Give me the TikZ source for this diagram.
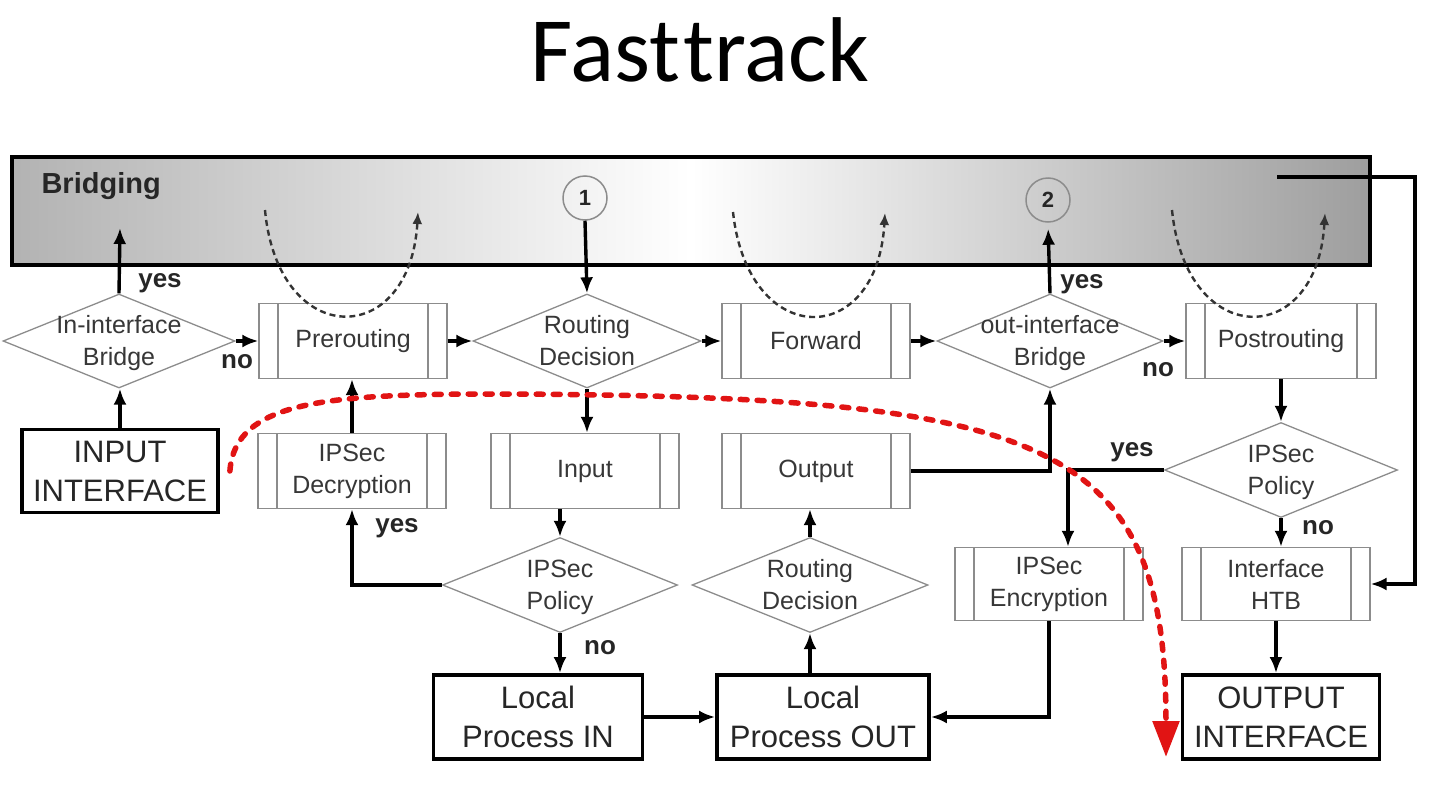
\documentclass[tikz,border=0pt]{standalone}
\usepackage{fontspec}
\setmainfont{Liberation Sans}
\newfontfamily\titlefont{Carlito}[Ligatures=CommonOff]
\usetikzlibrary{arrows.meta,shapes.geometric,calc}
\definecolor{boxgray}{RGB}{140,140,140}
\definecolor{txtgray}{RGB}{55,55,55}
\definecolor{trackred}{RGB}{225,20,20}
% text of a decision, kept out of the diamond's size
\newcommand{\dtxt}[1]{\raisebox{-0.35em}[0pt][0pt]{\makebox[0pt]{\begin{tabular}{@{}c@{}}#1\end{tabular}}}}

\tikzset{
  proc/.style={draw=boxgray, line width=1.3pt, minimum width=188pt, minimum height=75pt,
    inner sep=2pt, align=center, text=txtgray, font=\fontsize{25}{32}\selectfont,
    path picture={\draw[boxgray, line width=1.3pt]
      ([xshift=19pt]path picture bounding box.north west) -- ([xshift=19pt]path picture bounding box.south west)
      ([xshift=-19pt]path picture bounding box.north east) -- ([xshift=-19pt]path picture bounding box.south east);}},
  dec/.style={diamond, draw=boxgray, line width=1.3pt, minimum width=232pt, minimum height=94pt,
    inner sep=0pt, text=txtgray, font=\fontsize{25}{32}\selectfont},
  term/.style={draw=black, line width=3.8pt, minimum width=196pt, minimum height=83pt,
    inner sep=2pt, align=center, text=black!85, font=\fontsize{31}{39}\selectfont},
  bridgebar/.style={draw=black, line width=4.5pt, minimum width=1358pt, minimum height=108pt,
    left color=black!30, right color=black!38, middle color=white},
  num/.style={circle, draw=boxgray, line width=1.5pt, minimum size=44pt, inner sep=0pt,
    text=black!85, font=\bfseries\fontsize{22}{22}\selectfont},
  flow/.style={-{Latex[length=16pt,width=13pt]}, line width=3.4pt},
  yn/.style={font=\bfseries\fontsize{26}{26}\selectfont, text=black!85},
  loopcurve/.style={black!80, line width=2.4pt, dash pattern=on 6pt off 4pt, -{Latex[length=12pt,width=10pt]}},
  fastpath/.style={trackred, line width=5.5pt, dash pattern=on 7pt off 10pt, line cap=round,
    -{Triangle[length=36pt,width=26pt]}}
}

\begin{document}
\begin{tikzpicture}[x=1pt,y=-1pt]
  \useasboundingbox (0,0) rectangle (1433,790);

  % title
  \node[font=\titlefont\fontsize{92}{92}\selectfont] (title) at (700,50) {Fast\kern3pt track};

  % bridging bar
  \node[bridgebar] (bridge) at (691,211) {};
  \node[anchor=west, font=\bfseries\fontsize{29}{29}\selectfont, text=black!85] (brlabel) at (38,186) {Bridging};
  \node[num] (c1) at (585,198) {1};
  \node[num] (c2) at (1048,200) {2};
  \coordinate (br1) at (120,228);
  \coordinate (br2) at (1277,177);
  \coordinate (lpa1) at (265,210);
  \coordinate (lpa2) at (418,212);
  \coordinate (lpb1) at (733,212);
  \coordinate (lpb2) at (885,213);
  \coordinate (lpc1) at (1172,210);
  \coordinate (lpc2) at (1325,213);

  % first row
  \node[dec] (inb) at (119,341) {\dtxt{In-interface\\Bridge}};
  \node[proc] (prer) at (353,341) {Prerouting};
  \node[dec, minimum width=228pt] (rd1) at (587,341) {\dtxt{Routing\\Decision}};
  \node[proc] (fwd) at (816,341) {Forward};
  \node[dec, minimum width=226pt] (outb) at (1050,341) {\dtxt{out-interface\\Bridge}};
  \node[proc, minimum width=190pt] (post) at (1281,341) {Postrouting};

  % second row
  \node[term] (inif) at (120,471) {INPUT\\INTERFACE};
  \node[proc] (dec) at (352,471) {IPSec\\Decryption};
  \node[proc] (inp) at (585,471) {Input};
  \node[proc] (outp) at (816,471) {Output};
  \node[dec, minimum width=233pt, minimum height=95pt] (pol2) at (1281,470) {\dtxt{IPSec\\Policy}};

  % third row
  \node[dec, minimum width=235pt, minimum height=95pt] (pol1) at (560,585) {\dtxt{IPSec\\Policy}};
  \node[dec, minimum width=236pt, minimum height=95pt] (rd2) at (810,585) {\dtxt{Routing\\Decision}};
  \node[proc, minimum height=73pt] (enc) at (1049,584) {IPSec\\Encryption};
  \node[proc, minimum height=73pt] (htb) at (1276,584) {Interface\\HTB};

  % fourth row
  \node[term, minimum width=209pt, minimum height=84pt] (lpin) at (538,717) {Local\\Process IN};
  \node[term, minimum width=212pt, minimum height=84pt] (lpout) at (823,717) {Local\\Process OUT};
  \node[term, minimum width=197pt, minimum height=84pt] (outif) at (1281,717) {OUTPUT\\INTERFACE};

  % connectors
  \draw[flow] (inb.north) -- (br1);
  \draw[flow] (inif.north) -- (inif.north |- inb.south);
  \draw[flow] (inb.east) -- (prer.west);
  \draw[flow] (prer.east) -- (rd1.west);
  \draw[flow] (c1.south) -- (rd1.north);
  \draw[flow] (rd1.east) -- (fwd.west);
  \draw[flow] (fwd.east) -- (outb.west);
  \draw[flow, shorten >=6pt] (outb.north) -- (c2.south);
  \draw[flow] (outb.east) -- (post.west);
  \draw[flow] (rd1.south) -- (rd1.south |- inp.north);
  \draw[flow] (dec.north) -- (dec.north |- prer.south);
  \draw[flow] (pol1.north |- inp.south) -- (pol1.north);
  \draw[flow] (pol1.west) -| (dec.south);
  \draw[flow] (pol1.south) -- (pol1.south |- lpin.north);
  \draw[flow] (lpin.east) -- (lpout.west);
  \draw[flow] (rd2.south |- lpout.north) -- (rd2.south);
  \draw[flow] (rd2.north) -- (rd2.north |- outp.south);
  \draw[flow] (outp.east) -| (outb.south);
  \draw[flow] (post.south) -- (pol2.north);
  \draw[flow] (pol2.west) -| ($(enc.north)+(19,0)$);
  \draw[flow] (pol2.south) -- (pol2.south |- htb.north);
  \draw[flow] (htb.south) -- (htb.south |- outif.north);
  \draw[flow] (enc.south) |- (lpout.east);
  \draw[flow] (br2) -- ++(138,0) |- (htb.east);

  % yes / no
  \node[yn] (y1) at (160,283) {yes};
  \node[yn] (n1) at (237,362) {no};
  \node[yn] (y2) at (1082,284) {yes};
  \node[yn] (n2) at (1158,370) {no};
  \node[yn] (y3) at (397,528) {yes};
  \node[yn] (n3) at (600,648) {no};
  \node[yn] (y4) at (1132,452) {yes};
  \node[yn] (n4) at (1318,528) {no};

  % netfilter hooks skipped in the bridge
  \draw[loopcurve] (lpa1) .. controls (278,350) and (410,350) .. (lpa2);
  \draw[loopcurve] (lpb1) .. controls (748,350) and (877,350) .. (lpb2);
  \draw[loopcurve] (lpc1) .. controls (1186,350) and (1317,350) .. (lpc2);

  % fasttrack path
  \draw[fastpath] ($(inif.east)+(10,0)$) .. controls (235,400) and (330,394) .. (500,394)
    .. controls (1050,396) and (1166,440) .. (1166,757);
\end{tikzpicture}
\end{document}
